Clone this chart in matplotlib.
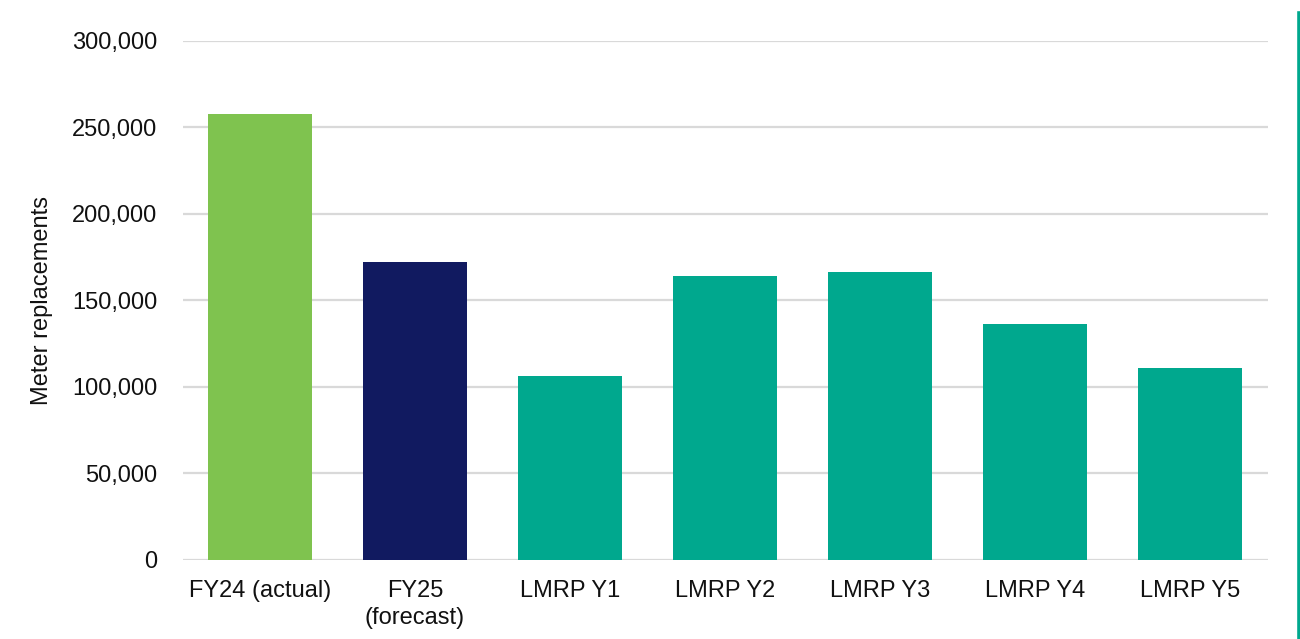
import matplotlib.pyplot as plt
from matplotlib.lines import Line2D
from matplotlib.ticker import FuncFormatter

categories = ['FY24 (actual)', 'FY25\n(forecast)', 'LMRP Y1', 'LMRP Y2',
              'LMRP Y3', 'LMRP Y4', 'LMRP Y5']
replacements = [257500, 172200, 106300, 164100, 166400, 136300, 110900]
bar_colors = ['#7FC34F', '#111A60', '#00A88E', '#00A88E', '#00A88E',
              '#00A88E', '#00A88E']

plt.rcParams['font.family'] = ['Liberation Sans', 'DejaVu Sans']

fig = plt.figure(figsize=(13, 6.39), dpi=100)
ax = fig.add_axes([182.5/1300, 1-559.5/639, 1085/1300, 518.5/639])

x = range(len(categories))
ax.bar(x, replacements, width=0.67, color=bar_colors, zorder=3)

ax.set_xlim(-0.5, len(categories) - 0.5)
ax.set_ylim(0, 300000)
ax.set_yticks(range(0, 300001, 50000))
ax.yaxis.set_major_formatter(FuncFormatter(lambda v, p: f'{int(v):,}'))
ax.set_xticks(list(x))
ax.set_xticklabels(categories, fontsize=17, color='#111111', linespacing=1.3)
ax.tick_params(axis='y', labelsize=17, labelcolor='#111111', length=0, pad=18)
ax.tick_params(axis='x', length=0, pad=15)
ax.grid(axis='y', color='#d9d9d9', linewidth=1.6, zorder=0)
for s in ax.spines.values():
    s.set_visible(False)

ax.set_ylabel('Meter replacements', fontsize=17, color='#111111', labelpad=14)

# accent line at right edge
fig.add_artist(Line2D([1298.5/1300, 1298.5/1300], [0, 1-13/639],
                      transform=fig.transFigure, color='#00A88E', linewidth=2.6))

fig.savefig('out.png', dpi=100)
